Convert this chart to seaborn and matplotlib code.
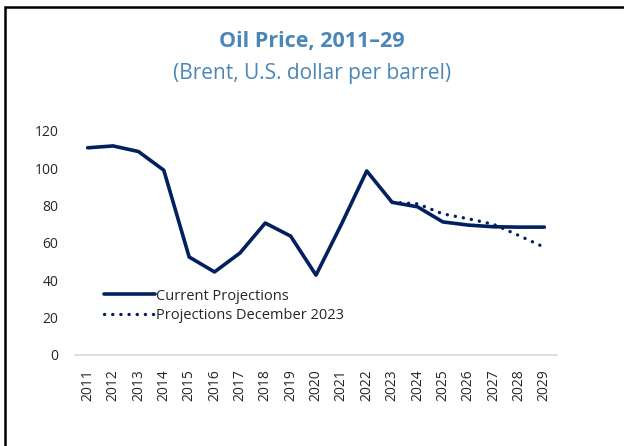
import matplotlib
matplotlib.use("Agg")
import matplotlib.pyplot as plt
import seaborn as sns
import pandas as pd
from matplotlib.patches import Rectangle

years = [str(y) for y in range(2011, 2030)]
current = [111, 112, 109, 99, 52.5, 44.5, 54.6, 70.7, 63.7, 42.8, 70, 98.6,
           81.8, 79.4, 71.3, 69.6, 68.7, 68.5, 68.5]
dec_years = [str(y) for y in range(2023, 2030)]
dec2023 = [81.8, 81, 75.6, 73, 70, 64, 57.7]

sns.set_theme(style="white")
plt.rcParams['font.family'] = ['Open Sans', 'DejaVu Sans']

navy = "#002060"
fig = plt.figure(figsize=(6.24, 4.46), dpi=100)
ax = fig.add_axes([75/624, 1-355/446, (557-75)/624, (355-131)/446])

df_cur = pd.DataFrame({"year": years, "value": current})
df_dec = pd.DataFrame({"year": dec_years, "value": dec2023})
order_map = {y: i for i, y in enumerate(years)}
df_cur["x"] = df_cur["year"].map(order_map)
df_dec["x"] = df_dec["year"].map(order_map)

sns.lineplot(data=df_cur, x="x", y="value", ax=ax, color=navy, linewidth=2.6,
             label="Current Projections")
sns.lineplot(data=df_dec, x="x", y="value", ax=ax, color=navy, linewidth=2.4,
             linestyle=(0, (0.05, 2.4)), dash_capstyle="round",
             label="Projections December 2023")

ax.set_xlim(-0.5, len(years) - 0.5)
ax.set_ylim(0, 120)
ax.set_xticks(range(len(years)))
ax.set_xticklabels(years, rotation=90, fontsize=10, color="#262626")
ax.set_yticks([0, 20, 40, 60, 80, 100, 120])
ax.set_yticklabels(["0", "20", "40", "60", "80", "100", "120"], fontsize=10, color="#262626")
ax.tick_params(axis="x", length=0, pad=10)
ax.tick_params(axis="y", length=0, pad=12)
ax.set_xlabel("")
ax.set_ylabel("")
for s in ["top", "right", "left"]:
    ax.spines[s].set_visible(False)
ax.spines["bottom"].set_color("#d9d9d9")
ax.spines["bottom"].set_linewidth(1.2)

leg = ax.legend(loc="lower left", bbox_to_anchor=(0.048, 0.117), frameon=False,
                fontsize=10.5, handlelength=3.5, handletextpad=0.1, labelspacing=0.3,
                borderaxespad=0.0)
for t in leg.get_texts():
    t.set_color("#262626")

fig.text(0.5, 1-42/446, "Oil Price, 2011\u201329", ha="center", va="center",
         fontsize=15.5, fontweight="bold", color="#4a86b8")
fig.text(0.5, 1-74/446, "(Brent, U.S. dollar per barrel)", ha="center", va="center",
         fontsize=15, color="#4a86b8")

fig.patches.append(Rectangle((5/624, -0.1), 1.2, 1-7/446+0.1, transform=fig.transFigure,
                             fill=False, edgecolor="black", linewidth=1.8))

fig.savefig("out.png", dpi=100)
